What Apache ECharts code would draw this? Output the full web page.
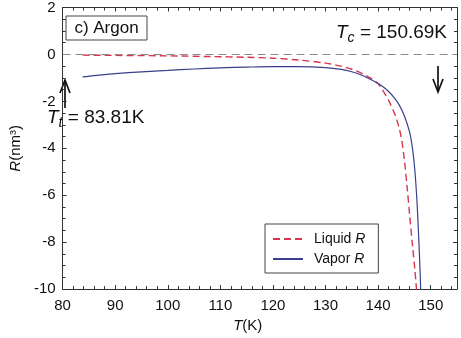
<!DOCTYPE html>
<html>
<head>
<meta charset="utf-8">
<script src="https://cdn.jsdelivr.net/npm/echarts@6/dist/echarts.min.js"></script>
<style>
  html, body { margin: 0; padding: 0; background: #fff; }
  #chart { width: 461px; height: 338px; }
</style>
</head>
<body>
<div id="chart"></div>
<script>
// liquid branch (red dashed)
var liquidT = [83.81, 90, 100, 108, 115, 120, 125, 130, 133, 135, 137, 138.5, 140, 141, 142, 143, 143.5, 144, 144.5, 145, 145.5, 146, 146.5, 147, 147.4];
var liquidR = [-0.03, -0.04, -0.06, -0.09, -0.12, -0.16, -0.24, -0.37, -0.5, -0.63, -0.82, -1.0, -1.25, -1.57, -1.96, -2.45, -2.76, -3.13, -3.67, -4.5, -5.62, -6.85, -8.05, -9.2, -10.3];
// vapor branch (blue solid)
var vaporT = [83.81, 86, 90, 95, 100, 105, 110, 115, 120, 125, 130, 133, 135, 137, 138.5, 140, 141, 142, 143, 144, 145, 146, 146.5, 147, 147.5, 148, 148.15];
var vaporR = [-0.96, -0.9, -0.82, -0.74, -0.68, -0.62, -0.57, -0.54, -0.52, -0.52, -0.56, -0.64, -0.74, -0.9, -1.06, -1.24, -1.39, -1.58, -1.83, -2.15, -2.62, -3.32, -3.95, -4.98, -6.72, -9.35, -10.5];
var seriesNames = ['Liquid R', 'Vapor R'];
var xTicks = { min: 80, max: 155, step: 10 };
var yTicks = { min: -10, max: 2, step: 2 };

function pairs(xs, ys) {
  var out = [];
  for (var i = 0; i < xs.length; i++) out.push([xs[i], ys[i]]);
  return out;
}

function axis(t, pos, labels, minorSplit) {
  return {
    type: 'value',
    position: pos,
    min: t.min,
    max: t.max,
    interval: t.step,
    axisLine: { show: true, onZero: false, lineStyle: { color: '#333', width: 1 } },
    axisTick: { show: true, inside: true, length: 4, lineStyle: { color: '#333' } },
    minorTick: { show: true, splitNumber: minorSplit, length: 3, lineStyle: { color: '#333' } },
    splitLine: { show: false },
    minorSplitLine: { show: false },
    axisLabel: {
      show: labels,
      showMaxLabel: pos === 'bottom' ? false : true,
      color: '#111',
      fontSize: 15,
      fontFamily: 'Liberation Sans, Arial, sans-serif',
      margin: pos === 'bottom' ? 9 : 7
    }
  };
}

var richFont = 'Liberation Sans, Arial, sans-serif';
var subRich = {
  t: { fontStyle: 'italic', fontSize: 19, fontFamily: richFont, fill: '#111' },
  s: { fontStyle: 'italic', fontSize: 14, fontFamily: richFont, padding: [10, 0, 0, 0], fill: '#111' },
  n: { fontSize: 19, fontFamily: richFont, fill: '#111' }
};

var xBottom = axis(xTicks, 'bottom', true, 5);
xBottom.name = '{i|T}(K)';
xBottom.nameLocation = 'middle';
xBottom.nameGap = 26;
xBottom.nameTextStyle = {
  color: '#111', fontSize: 15, fontFamily: richFont, padding: [0, 24, 0, 0],
  rich: { i: { fontStyle: 'italic', fontSize: 15, fontFamily: richFont, color: '#111' } }
};
var yLeft = axis(yTicks, 'left', true, 4);
yLeft.name = '{i|R}(nm³)';
yLeft.nameLocation = 'middle';
yLeft.nameGap = 26;
yLeft.nameTextStyle = {
  color: '#111', fontSize: 15, fontFamily: richFont,
  rich: { i: { fontStyle: 'italic', fontSize: 15, fontFamily: richFont, color: '#111' } }
};

var option = {
  animation: false,
  grid: { left: 45, right: 4, top: 5, bottom: 44 },
  xAxis: [xBottom, axis(xTicks, 'top', false, 5)],
  yAxis: [yLeft, axis(yTicks, 'right', false, 4)],
  legend: {
    orient: 'vertical',
    left: 265,
    top: 224,
    data: seriesNames,
    borderColor: '#444',
    borderWidth: 1,
    padding: [8, 13, 7, 7],
    itemGap: 6,
    itemWidth: 30,
    itemHeight: 10,
    itemStyle: { opacity: 0 },
    formatter: function (n) { return n.replace(' R', ' {i|R}'); },
    textStyle: {
      color: '#111', fontSize: 14, fontFamily: richFont, padding: [0, 0, 0, 6],
      rich: { i: { fontStyle: 'italic', fontSize: 14, fontFamily: richFont, color: '#111' } }
    }
  },
  series: [
    {
      name: seriesNames[0],
      type: 'line',
      data: pairs(liquidT, liquidR),
      symbol: 'none',
      smooth: 0.3,
      lineStyle: { color: '#d9344c', width: 1.4, type: [7, 4] },
      itemStyle: { color: '#d9344c' },
      markLine: {
        silent: true,
        symbol: 'none',
        label: { show: false },
        lineStyle: { color: '#8a8a8a', width: 1, type: [8, 5] },
        data: [{ yAxis: 0 }]
      }
    },
    {
      name: seriesNames[1],
      type: 'line',
      data: pairs(vaporT, vaporR),
      symbol: 'none',
      smooth: 0.3,
      lineStyle: { color: '#3b3f8c', width: 1.2 },
      itemStyle: { color: '#3b3f8c' }
    }
  ],
  graphic: [
    { type: 'rect', shape: { x: 66, y: 16, width: 81, height: 24 }, style: { fill: '#fff', stroke: '#444', lineWidth: 1 } },
    { type: 'text', x: 106.5, y: 28.5, style: { text: 'c) Argon', fill: '#111', fontSize: 17, fontFamily: richFont, align: 'center', verticalAlign: 'middle' } },
    { type: 'text', x: 336, y: 33, style: { text: '{t|T}{s|c}{n| = 150.69K}', rich: subRich, verticalAlign: 'middle' } },
    { type: 'text', x: 47, y: 118, style: { text: '{t|T}{s|t}{n| = 83.81K}', rich: subRich, verticalAlign: 'middle' } },
    // up arrow at triple point
    { type: 'polyline', shape: { points: [[65, 108], [65, 80]] }, style: { stroke: '#111', lineWidth: 1.7 } },
    { type: 'polyline', shape: { points: [[60, 93], [65, 80], [70, 93]] }, style: { stroke: '#111', lineWidth: 1.7, fill: null } },
    // down arrow near critical point
    { type: 'polyline', shape: { points: [[438, 66], [438, 92]] }, style: { stroke: '#111', lineWidth: 1.7 } },
    { type: 'polyline', shape: { points: [[433, 79], [438, 92], [443, 79]] }, style: { stroke: '#111', lineWidth: 1.7, fill: null } }
  ]
};

echarts.init(document.getElementById('chart')).setOption(option);
</script>
</body>
</html>
